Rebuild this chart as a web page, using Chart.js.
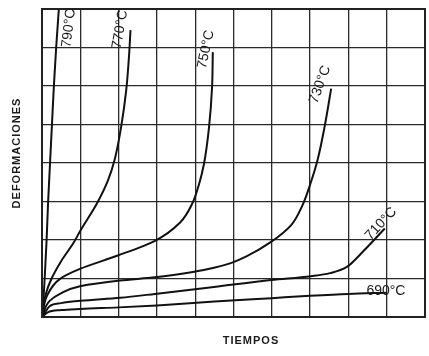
<!DOCTYPE html>
<html>
<head>
<meta charset="utf-8">
<script src="https://cdn.jsdelivr.net/npm/chart.js@4/dist/chart.umd.min.js"></script>
<style>
  html, body { margin: 0; padding: 0; background: #fff; }
  #wrap { width: 429px; height: 356px; }
</style>
</head>
<body>
<div id="wrap"><canvas id="creep"></canvas></div>
<script>
// curve labels (temperatures)
const temps = ["790°C", "770°C", "750°C", "730°C", "710°C", "690°C"];

// values, x = tiempo (grid units), y = deformación (grid units)
const x790 = [0, 0.04, 0.08, 0.12, 0.16, 0.21, 0.26, 0.31, 0.37, 0.44];
const y790 = [0, 0.5, 1.2, 2.0, 3.0, 4.0, 5.0, 6.0, 7.0, 8.0];

const x770 = [0, 0.1, 0.25, 0.5, 0.82, 1.0, 1.43, 1.72, 1.9, 2.06, 2.2, 2.28, 2.31];
const y770 = [0, 0.6, 1.0, 1.45, 1.92, 2.24, 2.94, 3.54, 4.1, 4.9, 5.9, 6.9, 7.45];

const x750 = [0, 0.13, 0.47, 0.99, 1.96, 2.95, 3.6, 3.92, 4.1, 4.23, 4.36, 4.44, 4.46];
const y750 = [0, 0.55, 0.99, 1.25, 1.59, 1.98, 2.45, 2.94, 3.45, 3.98, 4.92, 5.96, 6.88];

const x730 = [0, 0.2, 0.47, 0.99, 2.04, 2.95, 4.0, 4.49, 4.93, 5.35, 5.98, 6.5, 6.8, 7.02, 7.2, 7.38, 7.55];
const y730 = [0, 0.42, 0.6, 0.8, 0.95, 1.03, 1.18, 1.28, 1.4, 1.58, 1.95, 2.38, 2.9, 3.5, 4.1, 4.95, 5.93];

const x710 = [0, 0.2, 0.5, 1.0, 2.04, 2.95, 4.49, 5.98, 7.02, 7.52, 7.96, 8.4, 8.95];
const y710 = [0, 0.28, 0.36, 0.42, 0.5, 0.6, 0.78, 0.96, 1.06, 1.14, 1.3, 1.72, 2.3];

const x690 = [0, 0.15, 0.5, 1.0, 2.0, 3.0, 4.5, 6.0, 7.0, 8.0, 9.0];
const y690 = [0, 0.12, 0.18, 0.21, 0.25, 0.3, 0.4, 0.49, 0.55, 0.6, 0.63];

const xs = [x790, x770, x750, x730, x710, x690];
const ys = [y790, y770, y750, y730, y710, y690];

// where each temperature label sits (data units) and its tilt in degrees
const labelSpots = [
  { x: 0.7, y: 7.5, rot: -83 },
  { x: 2.04, y: 7.47, rot: -80 },
  { x: 4.28, y: 6.95, rot: -78 },
  { x: 7.26, y: 6.04, rot: -70 },
  { x: 8.85, y: 2.42, rot: -47 },
  { x: 8.98, y: 0.66, rot: 0 },
];

const curveLabels = {
  id: "curveLabels",
  afterDatasetsDraw(chart) {
    const { ctx, chartArea: a } = chart;
    const sx = chart.scales.x, sy = chart.scales.y;
    ctx.save();
    // outer frame
    ctx.strokeStyle = "#222";
    ctx.lineWidth = 2;
    ctx.strokeRect(a.left, a.top, a.right - a.left, a.bottom - a.top);

    ctx.fillStyle = "#1b1b1b";
    ctx.font = '14px "Liberation Sans", sans-serif';
    ctx.textAlign = "center";
    ctx.textBaseline = "middle";
    labelSpots.forEach((s, i) => {
      ctx.save();
      ctx.translate(sx.getPixelForValue(s.x), sy.getPixelForValue(s.y));
      ctx.rotate((s.rot * Math.PI) / 180);
      ctx.fillText(temps[i], 0, 0);
      ctx.restore();
    });

    // axis titles
    ctx.font = 'bold 11px "Liberation Sans", sans-serif';
    ctx.letterSpacing = "1px";
    ctx.fillText("TIEMPOS", 251, 341);
    ctx.save();
    ctx.translate(17, 153);
    ctx.rotate(-Math.PI / 2);
    ctx.fillText("DEFORMACIONES", 0, 0);
    ctx.restore();
    ctx.restore();
  },
};

const ctx = document.getElementById("creep").getContext("2d");
new Chart(ctx, {
  type: "scatter",
  data: {
    datasets: temps.map((t, i) => ({
      label: t,
      data: xs[i].map((v, j) => ({ x: v, y: ys[i][j] })),
      indexAxis: i < 4 ? "y" : "x",
      showLine: true,
      borderColor: "#111",
      borderWidth: 2,
      pointRadius: 0,
      cubicInterpolationMode: "monotone",
      fill: false,
    })),
  },
  options: {
    responsive: true,
    maintainAspectRatio: false,
    animation: false,
    layout: { padding: { left: 42, right: 4, top: 9, bottom: 39 } },
    plugins: { legend: { display: false }, tooltip: { enabled: false } },
    scales: {
      x: {
        type: "linear",
        min: 0,
        max: 10,
        ticks: { display: false, stepSize: 1 },
        grid: { color: "#2a2a2a", lineWidth: 1.3, drawTicks: false },
        border: { color: "#222", width: 2 },
      },
      y: {
        type: "linear",
        min: 0,
        max: 8,
        ticks: { display: false, stepSize: 1 },
        grid: { color: "#2a2a2a", lineWidth: 1.3, drawTicks: false },
        border: { color: "#222", width: 2 },
      },
    },
  },
  plugins: [curveLabels],
});
</script>
</body>
</html>
